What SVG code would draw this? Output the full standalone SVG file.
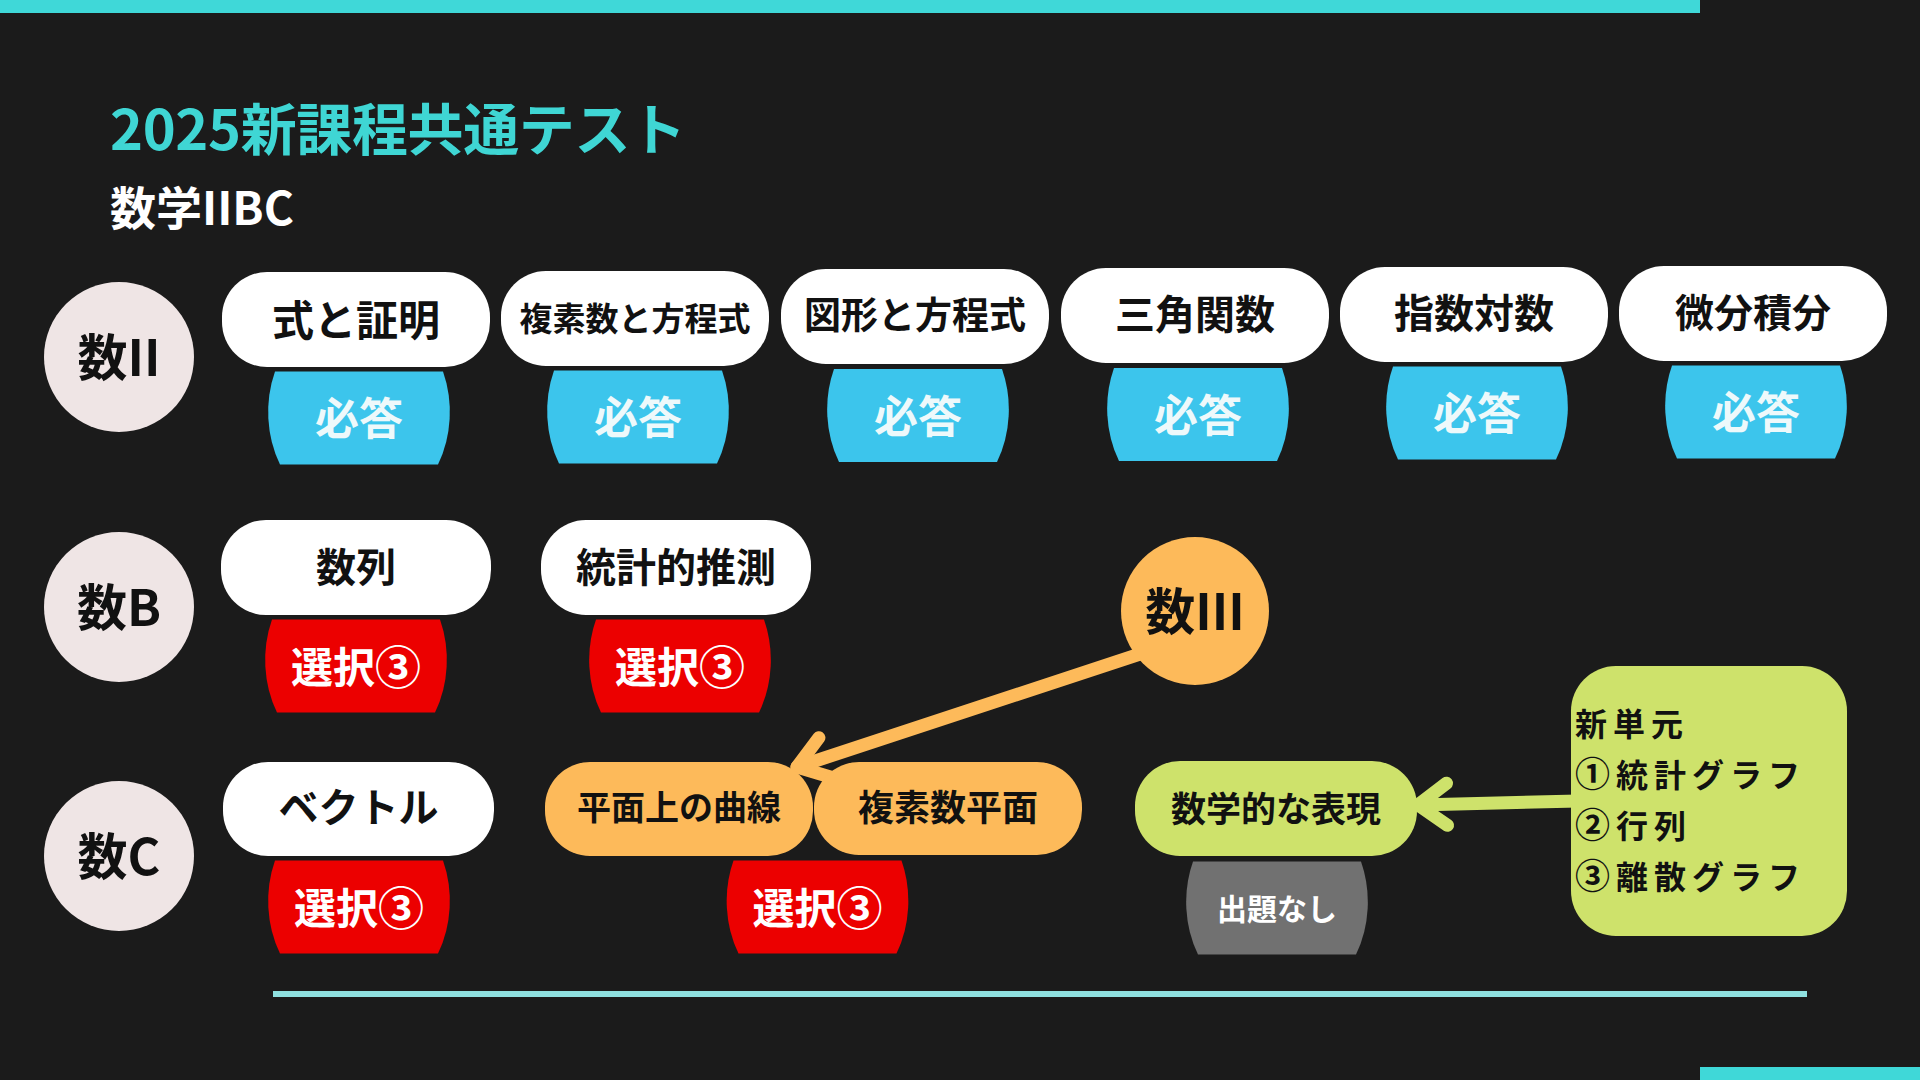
<svg xmlns="http://www.w3.org/2000/svg" width="1920" height="1080" viewBox="0 0 1920 1080">
<style>
  text { font-family: "Noto Sans CJK JP", "Noto Sans", sans-serif; font-weight: 700; }
  .c { text-anchor: middle; dominant-baseline: central; }
  .blk { fill: #111111; }
  .wht { fill: #ffffff; }
  .pillw { fill: #ffffff; }
  .pillo { fill: #fdba5a; }
  .pillg { fill: #cee26b; }
  .blue { fill: #3cc5ec; }
  .red { fill: #ec0000; }
  .gray { fill: #717171; }
  .circ { fill: #efe5e5; }
  .badge-t { fill: #eef9fb; font-size: 44px; }
  .sel-t { fill: #ffffff; font-size: 42px; }
  .big { font-size: 46px; }
  .num { font-size: 35px; }
  .conn { fill: none; stroke-width: 13; stroke-linecap: round; }
</style>
<defs>
  <path id="badge" d="M -84,-46.5 H 84 A 90 106 0 0 1 79,46.5 H -79 A 90 106 0 0 1 -84,-46.5 Z"/>
  <marker id="arrO" markerUnits="userSpaceOnUse" orient="auto" refX="0" refY="0" markerWidth="90" markerHeight="90" viewBox="-45 -45 90 90" style="overflow:visible">
    <path d="M -30,-21 L 0,0 L -30,21" fill="none" stroke="#fdba5a" stroke-width="13" stroke-linecap="round" stroke-linejoin="round"/>
  </marker>
  <marker id="arrG" markerUnits="userSpaceOnUse" orient="auto" refX="0" refY="0" markerWidth="90" markerHeight="90" viewBox="-45 -45 90 90" style="overflow:visible">
    <path d="M -29,-21 L 0,0 L -29,21" fill="none" stroke="#cee26b" stroke-width="13" stroke-linecap="round" stroke-linejoin="round"/>
  </marker>
</defs>

<rect x="0" y="0" width="1920" height="1080" fill="#1b1b1b"/>
<rect x="0" y="0" width="1700" height="13" fill="#3fd8d8"/>
<rect x="1700" y="1067" width="220" height="13" fill="#3fd8d8"/>
<rect x="273" y="991" width="1534" height="6" fill="#8fe0df"/>

<text x="110" y="150" font-size="56" fill="#3fd6d4" textLength="576">2025新課程共通テスト</text>
<text x="110" y="225" font-size="46" fill="#ffffff">数学IIBC</text>

<g id="connectors">
  <line class="conn" stroke="#fdba5a" x1="1140" y1="654" x2="797" y2="767" marker-end="url(#arrO)"/>
  <line class="conn" stroke="#cee26b" x1="1578" y1="801" x2="1418" y2="805" marker-end="url(#arrG)"/>
</g>

<g id="row-label-2">
  <circle class="circ" cx="119" cy="357" r="75"/>
  <text class="c blk" x="119" y="354" font-size="50">数II</text>
</g>
<g id="row-label-B">
  <circle class="circ" cx="119" cy="607" r="75"/>
  <text class="c blk" x="119" y="604" font-size="50">数B</text>
</g>
<g id="row-label-C">
  <circle class="circ" cx="119" cy="856" r="75"/>
  <text class="c blk" x="119" y="853" font-size="50">数C</text>
</g>

<g id="n-shiki">
  <rect class="pillw" x="222" y="272" width="268" height="95" rx="45"/>
  <text class="c blk" x="356" y="317" font-size="42">式と証明</text>
  <use href="#badge" class="blue" x="359" y="418"/>
  <text class="c badge-t" x="359" y="416">必答</text>
</g>
<g id="n-fukuso">
  <rect class="pillw" x="501" y="271" width="268" height="95" rx="45"/>
  <text class="c blk" x="635" y="317" font-size="33">複素数と方程式</text>
  <use href="#badge" class="blue" x="638" y="417"/>
  <text class="c badge-t" x="638" y="415">必答</text>
</g>
<g id="n-zukei">
  <rect class="pillw" x="781" y="269" width="268" height="95" rx="45"/>
  <text class="c blk" x="915" y="313" font-size="37">図形と方程式</text>
  <use href="#badge" class="blue" x="918" y="415.5"/>
  <text class="c badge-t" x="918" y="413.5">必答</text>
</g>
<g id="n-sankaku">
  <rect class="pillw" x="1061" y="268" width="268" height="95" rx="45"/>
  <text class="c blk" x="1195" y="312" font-size="40">三角関数</text>
  <use href="#badge" class="blue" x="1198" y="414.5"/>
  <text class="c badge-t" x="1198" y="412.5">必答</text>
</g>
<g id="n-shisu">
  <rect class="pillw" x="1340" y="267" width="268" height="95" rx="45"/>
  <text class="c blk" x="1474" y="311" font-size="40">指数対数</text>
  <use href="#badge" class="blue" x="1477" y="413"/>
  <text class="c badge-t" x="1477" y="411">必答</text>
</g>
<g id="n-bibun">
  <rect class="pillw" x="1619" y="266" width="268" height="95" rx="45"/>
  <text class="c blk" x="1753" y="310" font-size="39">微分積分</text>
  <use href="#badge" class="blue" x="1756" y="412"/>
  <text class="c badge-t" x="1756" y="410">必答</text>
</g>

<g id="n-suretsu">
  <rect class="pillw" x="221" y="520" width="270" height="95" rx="45"/>
  <text class="c blk" x="356" y="565" font-size="40">数列</text>
  <use href="#badge" class="red" x="356" y="666"/>
  <text class="c sel-t" x="356" y="664">選択<tspan class="big">③</tspan></text>
</g>
<g id="n-toukei">
  <rect class="pillw" x="541" y="520" width="270" height="95" rx="45"/>
  <text class="c blk" x="676" y="565" font-size="40">統計的推測</text>
  <use href="#badge" class="red" x="680" y="666"/>
  <text class="c sel-t" x="680" y="664">選択<tspan class="big">③</tspan></text>
</g>

<g id="n-suu3">
  <circle cx="1195" cy="611" r="74" fill="#fdba5a"/>
  <text class="c blk" x="1195" y="608" font-size="50">数III</text>
</g>

<g id="n-vector">
  <rect class="pillw" x="223" y="762" width="271" height="94" rx="45"/>
  <text class="c blk" x="358.5" y="805" font-size="40">ベクトル</text>
  <use href="#badge" class="red" x="359" y="907"/>
  <text class="c sel-t" x="359" y="905">選択<tspan class="big">③</tspan></text>
</g>
<g id="n-heimen">
  <rect class="pillo" x="545" y="762" width="268" height="94" rx="45"/>
  <text class="c blk" x="679" y="805" font-size="34">平面上の曲線</text>
</g>
<g id="n-fukusoheimen">
  <rect class="pillo" x="814" y="762" width="268" height="93" rx="45"/>
  <text class="c blk" x="948" y="805" font-size="36">複素数平面</text>
</g>
<g id="n-sel-c2">
  <use href="#badge" class="red" x="817.5" y="907"/>
  <text class="c sel-t" x="817.5" y="905">選択<tspan class="big">③</tspan></text>
</g>
<g id="n-hyougen">
  <rect class="pillg" x="1135" y="761" width="282" height="95" rx="45"/>
  <text class="c blk" x="1276" y="806" font-size="35">数学的な表現</text>
  <use href="#badge" class="gray" x="1277" y="908"/>
  <text class="c wht" x="1277" y="907" font-size="30">出題なし</text>
</g>

<g id="n-shintangen">
  <rect class="pillg" x="1571" y="666" width="276" height="270" rx="45"/>
  <text class="blk" x="1575" y="736" font-size="32" letter-spacing="6">新単元</text>
  <text class="blk" x="1575" y="787" font-size="32" letter-spacing="6"><tspan class="num">①</tspan>統計グラフ</text>
  <text class="blk" x="1575" y="838" font-size="32" letter-spacing="6"><tspan class="num">②</tspan>行列</text>
  <text class="blk" x="1575" y="889" font-size="32" letter-spacing="6"><tspan class="num">③</tspan>離散グラフ</text>
</g>
</svg>
